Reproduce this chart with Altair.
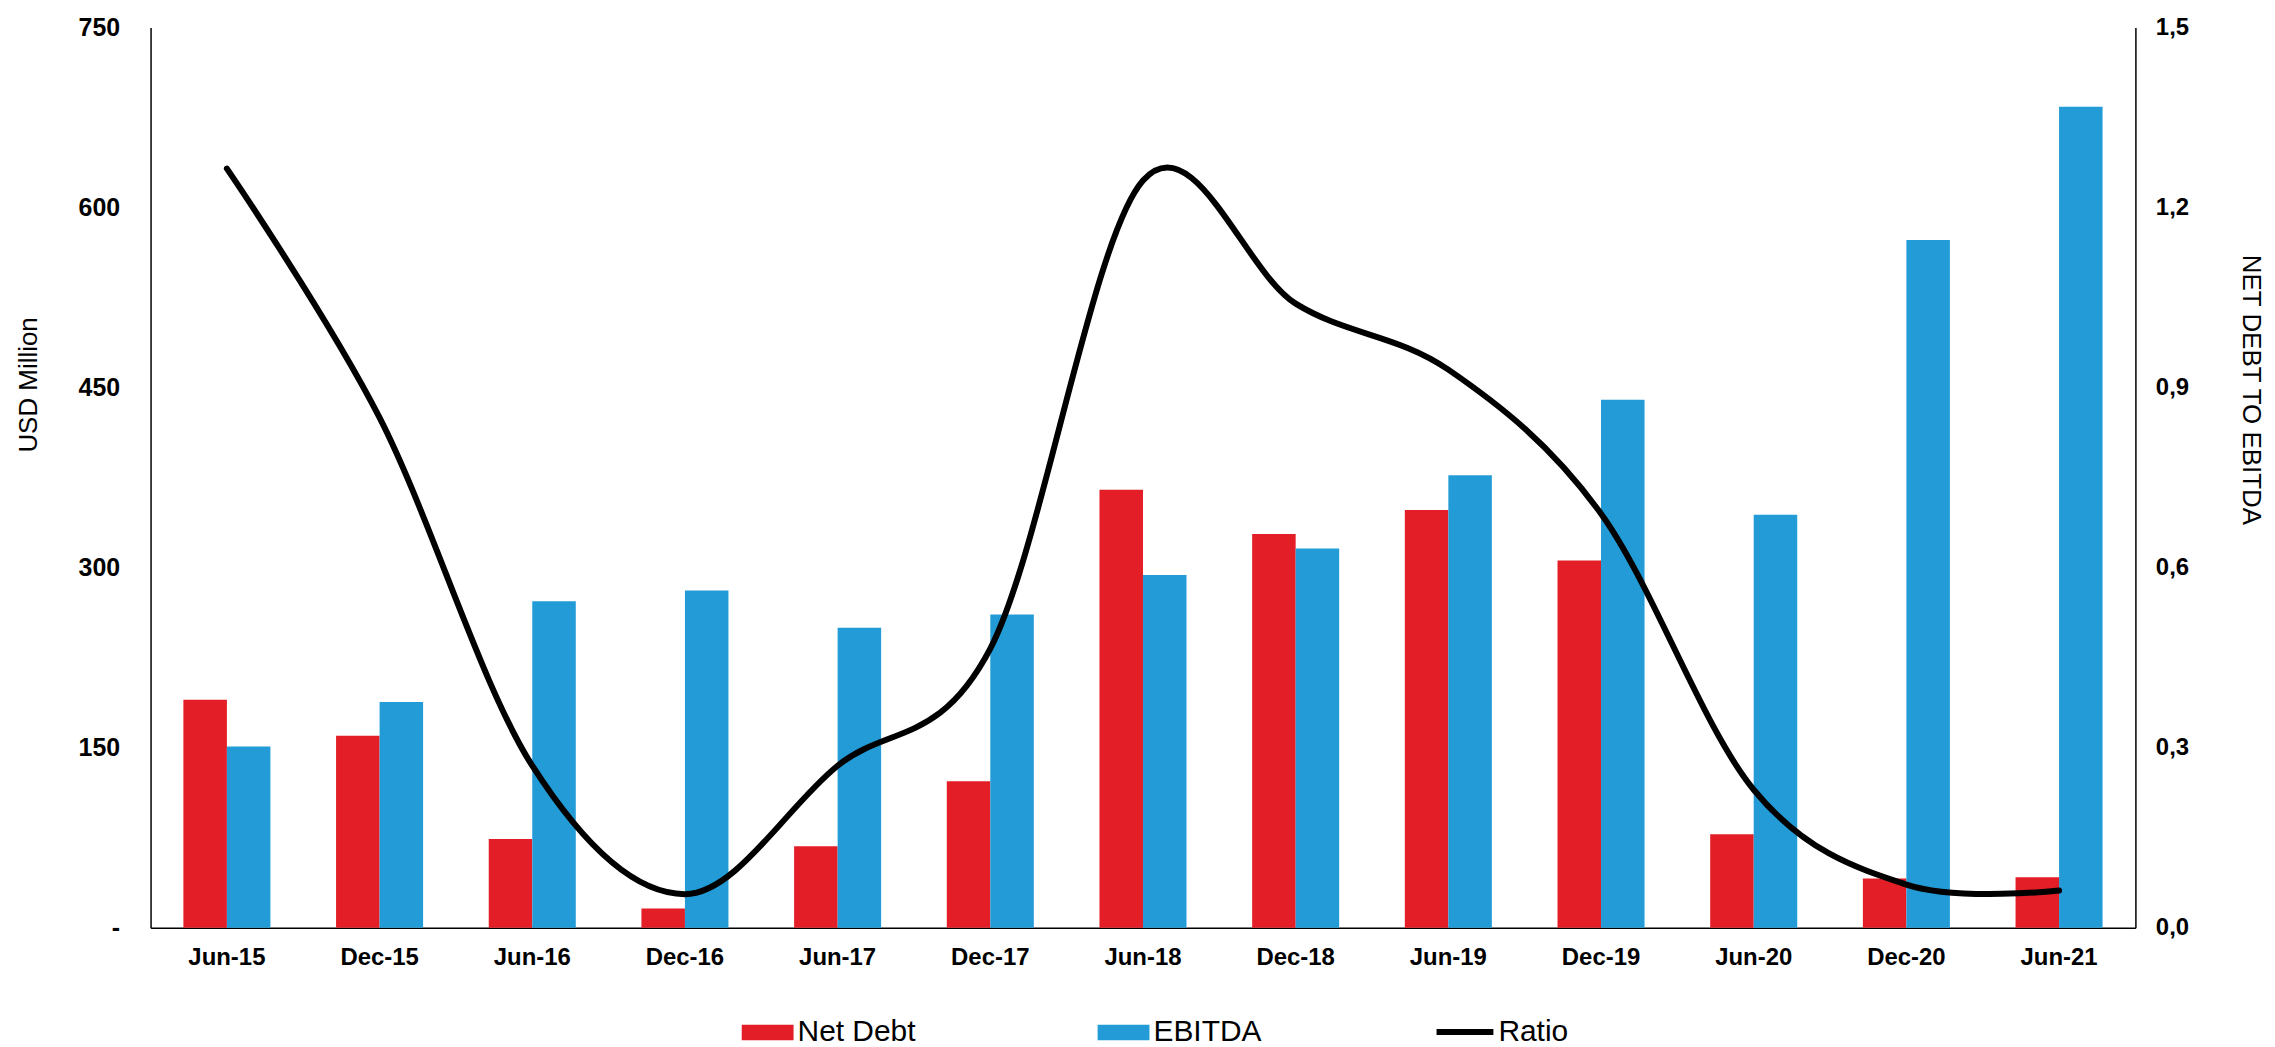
import altair as alt
import pandas as pd

periods = ["Jun-15", "Dec-15", "Jun-16", "Dec-16", "Jun-17", "Dec-17", "Jun-18",
           "Dec-18", "Jun-19", "Dec-19", "Jun-20", "Dec-20", "Jun-21"]
net_debt = [190, 160, 74, 16, 68, 122, 365, 328, 348, 306, 78, 41, 42]
ebitda = [151, 188, 272, 281, 250, 261, 294, 316, 377, 440, 344, 573, 684]
ratio = [1.265, 0.85, 0.27, 0.056, 0.27, 0.465, 1.245, 1.04, 0.93, 0.69, 0.23, 0.072, 0.062]

series_names = ["Net Debt", "EBITDA"]
left_ticks = [0, 150, 300, 450, 600, 750]
right_ticks = [0, 0.3, 0.6, 0.9, 1.2, 1.5]

RED = "#E31E26"
BLUE = "#229BD6"
FONT = "Liberation Sans"

bars_df = pd.DataFrame(
    [{"period": p, "series": "Net Debt", "value": v} for p, v in zip(periods, net_debt)]
    + [{"period": p, "series": "EBITDA", "value": v} for p, v in zip(periods, ebitda)]
)
line_df = pd.DataFrame({"period": periods, "ratio": ratio, "lseries": ["Ratio"] * len(periods)})

x_enc = alt.X(
    "period:N",
    sort=periods,
    scale=alt.Scale(paddingInner=0.43, paddingOuter=0.215),
    axis=alt.Axis(
        title=None, labelFont=FONT, labelFontSize=24, labelFontWeight="bold",
        labelColor="black", labelAngle=0, labelPadding=18, ticks=False,
        domainColor="black", domainWidth=1.5, grid=False,
    ),
)

bars = alt.Chart(bars_df).mark_bar().encode(
    x=x_enc,
    xOffset=alt.XOffset("series:N", sort=series_names,
                        scale=alt.Scale(paddingInner=0, paddingOuter=0)),
    y=alt.Y(
        "value:Q",
        scale=alt.Scale(domain=[0, 750], nice=False),
        axis=alt.Axis(
            values=left_ticks, title="USD Million",
            labelExpr="datum.value == 0 ? '-' : format(datum.value, 'd')",
            labelFont=FONT, labelFontSize=25, labelFontWeight="bold", labelColor="black",
            labelPadding=31, ticks=False, grid=False,
            domainColor="black", domainWidth=1.5,
            titleFont=FONT, titleFontSize=26, titleFontWeight="normal", titleColor="black",
            titleAngle=270, titleX=-122, titleY=358, titleAlign="center", titleBaseline="middle",
        ),
    ),
    color=alt.Color(
        "series:N",
        scale=alt.Scale(domain=series_names, range=[RED, BLUE]),
        legend=alt.Legend(
            title=None, orient="none", legendX=593, legendY=982, direction="horizontal",
            padding=0,
            symbolType="M-1,-0.3L1,-0.3L1,0.3L-1,0.3Z", symbolSize=2704,
            symbolStrokeWidth=0, labelFont=FONT, labelFontSize=30, labelColor="black",
            labelOffset=4, columnPadding=182,
        ),
    ),
)

line = alt.Chart(line_df).mark_line(
    interpolate="cardinal", strokeWidth=6, strokeCap="round", strokeJoin="round"
).encode(
    x=alt.X("period:N", sort=periods),
    y=alt.Y(
        "ratio:Q",
        scale=alt.Scale(domain=[0, 1.5], nice=False),
        axis=alt.Axis(
            orient="right", values=right_ticks, title="NET DEBT TO EBITDA",
            labelExpr="replace(format(datum.value, '.1f'), '.', ',')",
            labelFont=FONT, labelFontSize=24, labelFontWeight="bold", labelColor="black",
            labelPadding=20, ticks=False, grid=False,
            domainColor="black", domainWidth=1.5,
            titleFont=FONT, titleFontSize=26, titleFontWeight="normal", titleColor="black",
            titleAngle=90, titleX=115, titleY=363, titleAlign="center", titleBaseline="middle",
        ),
    ),
    stroke=alt.Stroke(
        "lseries:N",
        scale=alt.Scale(domain=["Ratio"], range=["black"]),
        legend=alt.Legend(
            title=None, orient="none", legendX=1287, legendY=976, padding=0,
            symbolType="stroke", symbolSize=3249, symbolStrokeWidth=6,
            labelFont=FONT, labelFontSize=30, labelColor="black", labelOffset=2,
        ),
    ),
)

chart = alt.layer(bars, line).resolve_scale(
    y="independent", color="independent", stroke="independent"
).properties(
    width=1991, height=903,
    autosize=alt.AutoSizeParams(type="none"),
    padding={"left": 143, "top": 18, "right": 132, "bottom": 118},
).configure_view(stroke=None)

chart.save("out.html", embed_options={"renderer": "svg", "actions": False})
